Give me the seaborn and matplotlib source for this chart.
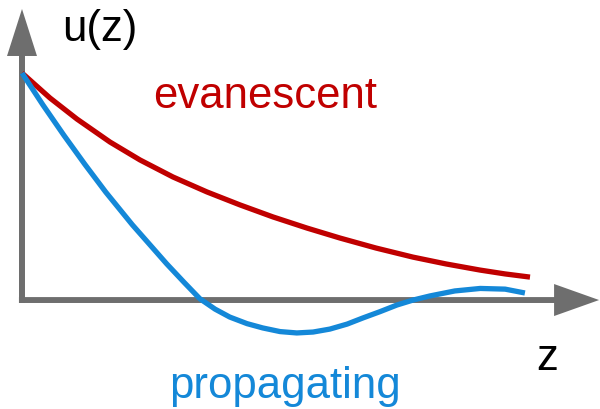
import pandas as pd
import seaborn as sns
import matplotlib.pyplot as plt

# values (z along the axis, u(z) normalised to 1 at z = 0)
z_evan = [0.0, 0.551, 1.083, 1.732, 2.323, 2.972, 3.642, 4.291, 4.941, 5.610, 6.260, 6.969,
          7.697, 8.346, 9.016, 9.508, 10.0]
u_evan = [1.0, 0.890, 0.797, 0.696, 0.617, 0.542, 0.476, 0.419, 0.366, 0.317, 0.273, 0.229,
          0.189, 0.159, 0.132, 0.115, 0.101]

z_prop = [0.0, 0.413, 0.827, 1.24, 1.65, 2.17, 2.52, 2.85, 3.19, 3.50, 3.80, 4.09, 4.43, 4.74,
          5.08, 5.41, 5.73, 6.06, 6.40, 6.71, 7.05, 7.38, 7.70, 8.03, 8.52, 9.02, 9.51, 9.90]
u_prop = [1.0, 0.859, 0.725, 0.597, 0.475, 0.332, 0.243, 0.159, 0.078, 0.006, -0.040, -0.075,
          -0.104, -0.123, -0.139, -0.145, -0.141, -0.128, -0.106, -0.079, -0.051, -0.022, 0.0,
          0.018, 0.040, 0.051, 0.048, 0.031]

RED = "#C00000"
BLUE = "#1488D8"
GREY = "#6E6E6E"

df = pd.concat([
    pd.DataFrame({"z": z_evan, "u": u_evan, "kind": "evanescent"}),
    pd.DataFrame({"z": z_prop, "u": u_prop, "kind": "propagating"}),
], ignore_index=True)

sns.set_theme(style="white")
plt.rcParams["font.family"] = ["Liberation Sans", "DejaVu Sans"]

fig = plt.figure(figsize=(6, 4.09), dpi=100)
ax = fig.add_axes([0, 0, 1, 1])
ax.set_xlim(-0.433, 11.378)
ax.set_ylim(-0.480, 1.3216)
ax.set_axis_off()

# axis arrows
ax.arrow(-0.06, 0, 11.42, 0, width=0.026, head_width=0.141, head_length=0.886,
         length_includes_head=True, color=GREY, lw=0, zorder=1)
ax.arrow(0, -0.013, 0, 1.295, width=0.118, head_width=0.59, head_length=0.207,
         length_includes_head=True, color=GREY, lw=0, zorder=1)

sns.lineplot(data=df, x="z", y="u", hue="kind", palette={"evanescent": RED, "propagating": BLUE},
             estimator=None, sort=True, lw=3.8, legend=False, ax=ax, zorder=3,
             solid_capstyle="butt", solid_joinstyle="round")

fs = 31.5
ax.text(0.787, 1.141, "u(z)", fontsize=fs, color="black", va="baseline")
ax.text(2.58, 0.846, "evanescent", fontsize=fs, color=RED, va="baseline")
ax.text(2.894, -0.432, "propagating", fontsize=fs, color=BLUE, va="baseline")
ax.text(10.12, -0.308, "z", fontsize=fs, color="black", va="baseline")

fig.savefig("out.png", dpi=100)
